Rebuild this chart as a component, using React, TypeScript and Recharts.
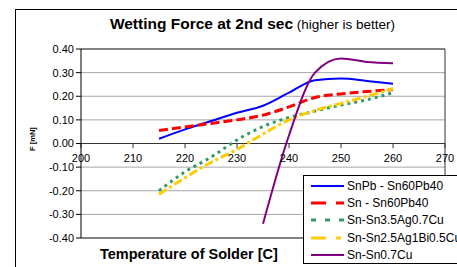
import React from 'react';
import { LineChart, Line, XAxis, YAxis, CartesianGrid, ReferenceLine, ReferenceDot } from 'recharts';

const temps = [215, 220, 225, 230, 235, 240, 245, 250, 255, 260];
const snPb = [0.02, 0.06, 0.095, 0.13, 0.16, 0.215, 0.268, 0.275, 0.265, 0.253];
const sn60 = [0.055, 0.07, 0.085, 0.1, 0.12, 0.155, 0.195, 0.21, 0.22, 0.228];
const snAgCu = [-0.2, -0.12, -0.058, 0.015, 0.072, 0.11, 0.137, 0.163, 0.185, 0.215];
const snAgBiCu = [-0.215, -0.145, -0.08, -0.025, 0.04, 0.1, 0.14, 0.17, 0.2, 0.232];
const snCu = [null, null, null, null, -0.34, 0.035, 0.3, 0.36, 0.345, 0.34];

const xTicks = [200, 210, 220, 230, 240, 250, 260, 270];
const yTicks = [-0.4, -0.3, -0.2, -0.1, 0, 0.1, 0.2, 0.3, 0.4];

const data = temps.map((t, i) => ({
  t,
  snPb: snPb[i],
  sn60: sn60[i],
  snAgCu: snAgCu[i],
  snAgBiCu: snAgBiCu[i],
  snCu: snCu[i],
}));

const SERIES = [
  { key: 'snPb', name: 'SnPb - Sn60Pb40', color: '#0000FF', width: 2, dash: undefined, legendDash: undefined },
  { key: 'sn60', name: 'Sn - Sn60Pb40', color: '#FF0000', width: 3, dash: '9 4', legendDash: '15 10' },
  { key: 'snAgCu', name: 'Sn-Sn3.5Ag0.7Cu', color: '#339966', width: 3, dash: '3 4', legendDash: '5 9' },
  { key: 'snAgBiCu', name: 'Sn-Sn2.5Ag1Bi0.5Cu', color: '#FFCC00', width: 3, dash: '9 3 3 3', legendDash: '15 10 5 10' },
  { key: 'snCu', name: 'Sn-Sn0.7Cu', color: '#800080', width: 2, dash: undefined, legendDash: undefined },
];

const FONT = 'Arial, "Liberation Sans", sans-serif';

function LegendBox() {
  return (
    <div style={{ position: 'absolute', left: 303, top: 175, border: '1px solid #000', background: '#fff', width: 170, height: 89, padding: '1px 0 0 7px', boxSizing: 'border-box' }}>
      {SERIES.map((s) => (
        <div key={s.key} style={{ display: 'flex', alignItems: 'center', height: 17.3, fontSize: 12, fontFamily: FONT, color: '#000', whiteSpace: 'nowrap' }}>
          <svg width={34} height={8} style={{ marginRight: 2 }}>
            <line x1={0} y1={4} x2={33} y2={4} stroke={s.color} strokeWidth={s.width} strokeDasharray={s.legendDash} />
          </svg>
          {s.name}
        </div>
      ))}
    </div>
  );
}

export default function App() {
  return (
    <div style={{ position: 'relative', width: 457, height: 267, overflow: 'hidden', background: '#fff', fontFamily: FONT }}>
      <style>{'body{margin:0}'}</style>
      <div style={{ position: 'absolute', left: 15, top: 9, width: 600, height: 400, border: '1px solid #000' }} />
      <div style={{ position: 'absolute', left: 0, width: 505, top: 15, textAlign: 'center', color: '#000', whiteSpace: 'nowrap' }}>
        <span style={{ fontWeight: 'bold', fontSize: 15.5 }}>Wetting Force at 2nd sec</span>
        <span style={{ fontSize: 13.5 }}> (higher is better)</span>
      </div>
      <div style={{ position: 'absolute', left: 32, top: 139, transform: 'translate(-50%, -50%) rotate(-90deg)', fontSize: 7.5, fontWeight: 'bold', whiteSpace: 'nowrap' }}>
        F [mN]
      </div>
      <div style={{ position: 'absolute', left: 100, top: 246, fontSize: 14.5, fontWeight: 'bold', whiteSpace: 'nowrap' }}>
        Temperature of Solder [C]
      </div>
      <div style={{ position: 'absolute', left: 0, top: 0 }}>
        <LineChart width={457} height={267} data={data} margin={{ top: 49, right: 12, bottom: 29, left: 21 }}>
          <CartesianGrid vertical={false} stroke="#a6a6a6" />
          <XAxis type="number" dataKey="t" domain={[200, 270]} ticks={xTicks} hide />
          <YAxis
            width={60}
            domain={[-0.4, 0.4]}
            ticks={yTicks}
            tickFormatter={(v: number) => v.toFixed(2)}
            tick={{ fill: '#000', fontSize: 11, fontFamily: FONT }}
            tickSize={5}
            tickLine={{ stroke: '#000' }}
            axisLine={{ stroke: '#000' }}
          />
          <ReferenceLine y={0.4} stroke="#333" />
          <ReferenceLine y={-0.4} stroke="#333" />
          <ReferenceLine x={270} stroke="#333" />
          <ReferenceLine y={0} stroke="#333" />
          {xTicks.map((t) => (
            <ReferenceLine key={`tk-${t}`} segment={[{ x: t, y: 0 }, { x: t, y: -0.02 }]} stroke="#333" />
          ))}
          {xTicks.map((t) => (
            <ReferenceDot
              key={`lb-${t}`}
              x={t}
              y={0}
              r={0.5}
              fill="none"
              stroke="none"
              label={{ value: String(t), position: 'bottom', offset: 10, fill: '#000', fontSize: 11, fontFamily: FONT }}
            />
          ))}
          {SERIES.map((s) => (
            <Line
              key={s.key}
              type="monotone"
              dataKey={s.key}
              name={s.name}
              stroke={s.color}
              strokeWidth={s.width}
              strokeDasharray={s.dash}
              dot={false}
              isAnimationActive={false}
            />
          ))}
        </LineChart>
      </div>
      <LegendBox />
    </div>
  );
}
